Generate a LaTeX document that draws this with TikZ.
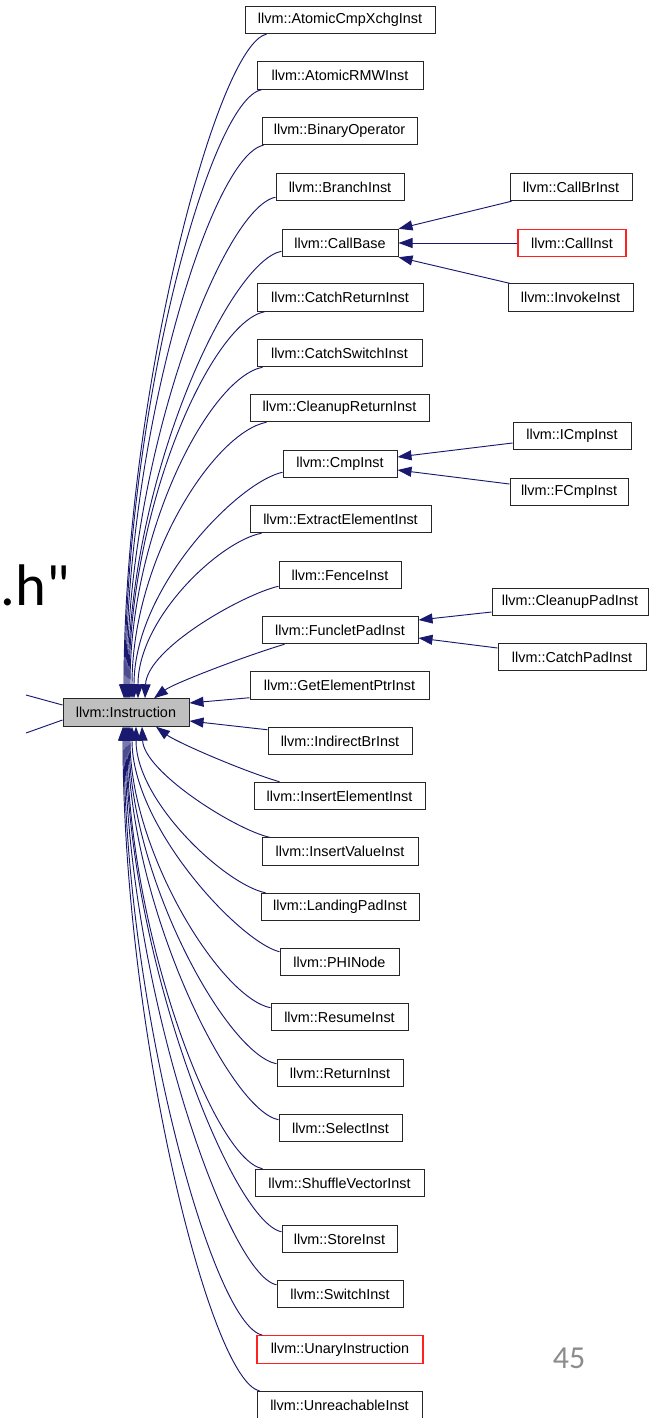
\documentclass[tikz,border=0pt]{standalone}
\usepackage{fontspec}
\setmainfont{Liberation Sans}
\newfontfamily\slidefont{Carlito}
\usetikzlibrary{arrows.meta,calc}
\definecolor{edgeblue}{HTML}{191970}
\definecolor{basegray}{HTML}{BFBFBF}
\definecolor{hilite}{HTML}{FF2020}
\definecolor{pagegray}{HTML}{8C8C8C}
\begin{document}
\begin{tikzpicture}[x=0.75pt,y=-0.75pt,
  cls/.style={draw=black!85, line width=0.75pt, fill=white, inner sep=0pt,
    minimum height=20.6pt, font=\fontsize{10.8}{13}\selectfont, text=black},
  bw/.style={minimum width={#1*0.75pt}},
  redcls/.style={cls, draw=hilite, line width=1.05pt},
  basecls/.style={cls, fill=basegray},
  edge/.style={draw=edgeblue, line width=0.7pt, -{Triangle[length=10.5pt,width=7.5pt]}},
  plain/.style={draw=edgeblue, line width=0.7pt},
]
\fill[white] (0,0) rectangle (667,1418);
\useasboundingbox (0,0) rectangle (667,1418);

% slide text around the graph
\node[anchor=base east, inner sep=0pt, font=\slidefont\fontsize{44}{50}\selectfont] (hdr) at (70,605) {.h"};
\node[inner sep=0pt, text=pagegray, font=\slidefont\fontsize{24}{28}\selectfont] (pg) at (569,1358) {45};

% base class
\node[basecls, bw=126] (inst) at (126,712.5) {llvm::Instruction};

% direct subclasses
\node[cls, bw=190] (n1)  at (340,20)    {llvm::AtomicCmpXchgInst};
\node[cls, bw=166] (n2)  at (340,75.5)  {llvm::AtomicRMWInst};
\node[cls, bw=155] (n3)  at (339.5,131) {llvm::BinaryOperator};
\node[cls, bw=128] (n4)  at (340,187)   {llvm::BranchInst};
\node[cls, bw=116] (n5)  at (340,243)   {llvm::CallBase};
\node[cls, bw=166] (n6)  at (340,297.5) {llvm::CatchReturnInst};
\node[cls, bw=165] (n7)  at (339.5,353) {llvm::CatchSwitchInst};
\node[cls, bw=179] (n8)  at (339.5,408) {llvm::CleanupReturnInst};
\node[cls, bw=114] (n9)  at (340,464)   {llvm::CmpInst};
\node[cls, bw=181] (n10) at (340.5,519) {llvm::ExtractElementInst};
\node[cls, bw=122] (n11) at (340,575)   {llvm::FenceInst};
\node[cls, bw=156] (n12) at (340,630)   {llvm::FuncletPadInst};
\node[cls, bw=179] (n13) at (339.5,685.5) {llvm::GetElementPtrInst};
\node[cls, bw=144] (n14) at (340,741)   {llvm::IndirectBrInst};
\node[cls, bw=171] (n15) at (339.5,796) {llvm::InsertElementInst};
\node[cls, bw=156] (n16) at (340,851.5) {llvm::InsertValueInst};
\node[cls, bw=158] (n17) at (340,907)   {llvm::LandingPadInst};
\node[cls, bw=119] (n18) at (339.5,962) {llvm::PHINode};
\node[cls, bw=137] (n19) at (339.5,1017) {llvm::ResumeInst};
\node[cls, bw=126] (n20) at (340,1073)  {llvm::ReturnInst};
\node[cls, bw=123] (n21) at (340.5,1128) {llvm::SelectInst};
\node[cls, bw=169] (n22) at (339.5,1183) {llvm::ShuffleVectorInst};
\node[cls, bw=115] (n23) at (339.5,1239) {llvm::StoreInst};
\node[cls, bw=126] (n24) at (340,1294)  {llvm::SwitchInst};
\node[redcls, bw=166] (n25) at (340,1349.5) {llvm::UnaryInstruction};
\node[cls, bw=165] (n26) at (339.5,1405) {llvm::UnreachableInst};

% second-level subclasses
\node[cls, bw=122] (callbr) at (571,187)   {llvm::CallBrInst};
\node[redcls, bw=108] (call) at (572,243)  {llvm::CallInst};
\node[cls, bw=125] (invoke) at (570.5,297.5) {llvm::InvokeInst};
\node[cls, bw=118] (icmp)   at (572,436)   {llvm::ICmpInst};
\node[cls, bw=118] (fcmp)   at (569,492)   {llvm::FCmpInst};
\node[cls, bw=156] (cleanpad) at (570,602) {llvm::CleanupPadInst};
\node[cls, bw=148] (catchpad) at (572,657) {llvm::CatchPadInst};

% edges towards the top of llvm::Instruction
\draw[edge] ($(n1.south west)+(22,0)$)  .. controls +(-50,10) and +(0,-300) .. ($(inst.north)+(-2,0)$);
\draw[edge] ($(n2.south west)+(5,0)$)   .. controls +(-52,10) and +(0,-285) .. ($(inst.north)+(-1,0)$);
\draw[edge] ($(n3.south west)+(2,0)$)   .. controls +(-52,10) and +(0,-265) .. ($(inst.north)+(0,0)$);
\draw[edge] ($(n4.south west)+(0,-4)$)  .. controls +(-52,10) and +(0,-245) .. ($(inst.north)+(1,0)$);
\draw[edge] ($(n5.south west)+(0,-6)$)  .. controls +(-52,10) and +(0,-220) .. ($(inst.north)+(2,0)$);
\draw[edge] ($(n6.south west)+(8,0)$)   .. controls +(-52,10) and +(0,-195) .. ($(inst.north)+(3,0)$);
\draw[edge] ($(n7.south west)+(6,0)$)   .. controls +(-52,10) and +(0,-170) .. ($(inst.north)+(4,0)$);
\draw[edge] ($(n8.south west)+(17,0)$)  .. controls +(-52,10) and +(0,-140) .. ($(inst.north)+(6,0)$);
\draw[edge] ($(n9.south west)+(0,-6)$)  .. controls +(-45,10) and +(0,-110) .. ($(inst.north)+(8,0)$);
\draw[edge] ($(n10.south west)+(12,0)$) .. controls +(-42,8)  and +(0,-80)  .. ($(inst.north)+(12,0)$);
\draw[edge] ($(n11.south west)+(0,-3)$) .. controls +(-35,8)  and +(2,-50)  .. ($(inst.north)+(19,0)$);
\draw[edge] ($(n12.south west)+(23,0)$) .. controls +(-40,12) and +(20,-15) .. ($(inst.north)+(28,0)$);

% edges towards the right side of llvm::Instruction
\draw[edge] ($(n13.south west)+(0,-2)$) -- ($(inst.east)+(0,-9.5)$);
\draw[edge] ($(n14.north west)+(0,3)$)  -- ($(inst.east)+(0,8.5)$);

% edges towards the bottom of llvm::Instruction
\draw[edge] ($(n15.north west)+(26,0)$) .. controls +(-40,-12) and +(20,15) .. ($(inst.south)+(30,0)$);
\draw[edge] ($(n16.north west)+(8,0)$)  .. controls +(-35,-8)  and +(2,45)  .. ($(inst.south)+(16,0)$);
\draw[edge] ($(n17.north west)+(5,0)$)  .. controls +(-40,-8)  and +(0,75)  .. ($(inst.south)+(10,0)$);
\draw[edge] ($(n18.north west)+(0,4)$)  .. controls +(-40,-10) and +(0,100) .. ($(inst.south)+(6,0)$);
\draw[edge] ($(n19.north west)+(0,5)$)  .. controls +(-50,-10) and +(0,125) .. ($(inst.south)+(4,0)$);
\draw[edge] ($(n20.north west)+(0,5)$)  .. controls +(-50,-10) and +(0,150) .. ($(inst.south)+(3,0)$);
\draw[edge] ($(n21.north west)+(0,6)$)  .. controls +(-50,-10) and +(0,175) .. ($(inst.south)+(2,0)$);
\draw[edge] ($(n22.north west)+(8,0)$)  .. controls +(-50,-10) and +(0,200) .. ($(inst.south)+(1,0)$);
\draw[edge] ($(n23.north west)+(0,7)$)  .. controls +(-50,-10) and +(0,225) .. ($(inst.south)+(0,0)$);
\draw[edge] ($(n24.north west)+(0,5)$)  .. controls +(-50,-10) and +(0,250) .. ($(inst.south)+(-1,0)$);
\draw[edge] ($(n25.north west)+(6,0)$)  .. controls +(-50,-10) and +(0,275) .. ($(inst.south)+(-2,0)$);
\draw[edge] ($(n26.north west)+(3,0)$)  .. controls +(-50,-10) and +(0,300) .. ($(inst.south)+(-3,0)$);

% second-level edges
\draw[edge] ($(callbr.south west)+(2,0)$) -- (n5.north east);
\draw[edge] (call.west) -- (n5.east);
\draw[edge] ($(invoke.north west)+(2,0)$) -- (n5.south east);
\draw[edge] ($(icmp.west)+(0,7)$) -- ($(n9.east)+(0,-7)$);
\draw[edge] ($(fcmp.west)+(0,-8)$) -- ($(n9.east)+(0,6)$);
\draw[edge] ($(cleanpad.west)+(0,10)$) -- ($(n12.east)+(0,-10)$);
\draw[edge] ($(catchpad.west)+(0,-9)$) -- ($(n12.east)+(0,8)$);

% links leaving llvm::Instruction to the left
\coordinate (l1) at (26,695);
\coordinate (l2) at (26,733);
\draw[plain] (l1) -- ($(inst.west)+(0,-7.5)$);
\draw[plain] (l2) -- ($(inst.west)+(0,7.5)$);
\end{tikzpicture}
\end{document}
